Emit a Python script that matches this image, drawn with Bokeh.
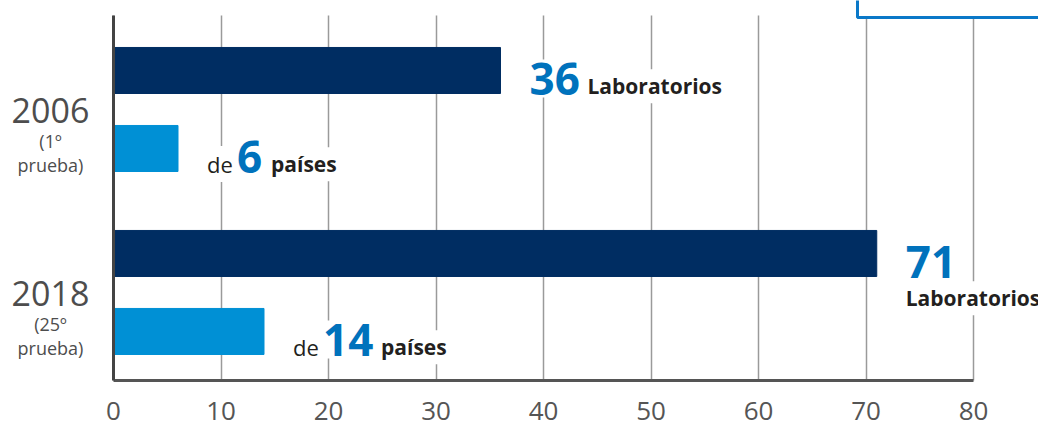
from bokeh.plotting import figure
from bokeh.models import Range1d, Label, FixedTicker, BoxAnnotation
from bokeh.embed import file_html
from bokeh.resources import INLINE

# ---- data ----
years = ["2006", "2018"]
rounds = ["(1º", "(25º"]
laboratorios = [36, 71]
paises = [6, 14]
x_ticks = [0, 10, 20, 30, 40, 50, 60, 70, 80]

# ---- style ----
NAVY = "#002d62"
LIGHT = "#0090d5"
NUMBLUE = "#0072bc"
DARK = "#231f20"
GRAY = "#4d4d4d"
FONT = "Open Sans"

W, H = 1038, 423
PX_PER_UNIT = 860 / 80.0          # horizontal scale (px per value unit)
X0_PX = 113                       # pixel position of value 0
ROW_PX = 78                       # pixel distance between rows
TOP_PX, BOT_PX = 15, 380          # top / bottom of plotting area

group_step = 2.346
bar_h = 0.59
lab_y = [i * group_step for i in range(len(years))]
pai_y = [y + 1 for y in lab_y]

y_top = -0.705
y_bot = y_top + (BOT_PX - TOP_PX) / ROW_PX
x_start = -X0_PX / PX_PER_UNIT
x_end = (W - X0_PX) / PX_PER_UNIT
y_canvas_top = y_top - TOP_PX / ROW_PX
y_canvas_bot = y_top + (H - TOP_PX) / ROW_PX

p = figure(width=W, height=H, output_backend="svg", toolbar_location=None,
           x_range=Range1d(x_start, x_end),
           y_range=Range1d(y_canvas_bot, y_canvas_top),
           min_border=0)
p.outline_line_color = None

p.hbar(y=lab_y, left=0, right=laboratorios, height=bar_h, color=NAVY)
p.hbar(y=pai_y, left=0, right=paises, height=bar_h, color=LIGHT)

# axes (fixed at value 0 / bottom of area)
p.xaxis.fixed_location = y_bot
p.xaxis.bounds = (0, 80)
p.xaxis.ticker = FixedTicker(ticks=x_ticks)
p.xaxis.axis_line_width = 3
p.xaxis.axis_line_color = "#555555"
p.xaxis.major_tick_line_color = None
p.xaxis.minor_tick_line_color = None
p.xaxis.major_label_text_font = FONT
p.xaxis.major_label_text_font_size = "26px"
p.xaxis.major_label_text_color = "#555555"
p.xaxis.major_label_standoff = 15

p.yaxis.fixed_location = 0
p.yaxis.bounds = (y_top, y_bot)
p.yaxis.ticker = FixedTicker(ticks=[])
p.yaxis.axis_line_width = 3
p.yaxis.axis_line_color = "#444444"
p.yaxis.major_tick_line_color = None
p.yaxis.minor_tick_line_color = None
p.yaxis.major_label_text_font_size = "0px"

p.ygrid.grid_line_color = None
p.xgrid.ticker = FixedTicker(ticks=x_ticks)
p.xgrid.grid_line_color = "#9a9a9a"
p.xgrid.grid_line_width = 1.5
p.xgrid.cross_bounds = (y_top, y_bot)

def lab(x, y, text, size_px, color, bold, xo=0, yo=0):
    comp = 0.34 * size_px
    l = Label(x=x, y=y, text=text, x_offset=xo, y_offset=yo + comp,
              text_font=FONT, text_font_size=f"{size_px}px", text_color=color,
              text_font_style="bold" if bold else "normal",
              text_baseline="alphabetic", text_align="left",
              background_fill_color="white", background_fill_alpha=1.0,
              padding=3)
    p.add_layout(l)

NUM = 44
DIGIT_W = 24
GAP = 26
avail_px = W - X0_PX

for i in range(len(years)):
    # laboratorios label
    v = laboratorios[i]
    yb = lab_y[i] + bar_h / 2
    num_w = 25 * len(str(v))
    lab(v, yb, str(v), NUM, NUMBLUE, True, xo=GAP)
    if v * PX_PER_UNIT + GAP + num_w + 8 + 132 < avail_px:
        lab(v, yb, "Laboratorios", 21, DARK, True, xo=GAP + num_w + 8)
    else:
        lab(v, yb, "Laboratorios", 21, DARK, True, xo=GAP, yo=-29)
    # paises label
    v = paises[i]
    yb = pai_y[i] + bar_h / 2
    num_w = DIGIT_W * len(str(v))
    lab(v, yb, "de", 22, DARK, False, xo=GAP)
    lab(v, yb, str(v), NUM, NUMBLUE, True, xo=GAP + 30)
    lab(v, yb, "países", 21, DARK, True, xo=GAP + 30 + num_w + 10)

    # category labels on the left
    gc = (lab_y[i] + pai_y[i]) / 2
    for txt, size, yo in [(years[i], "34px", -1.5), (rounds[i], "18px", -32),
                          ("prueba)", "18px", -56)]:
        p.add_layout(Label(x=0, y=gc, text=txt, x_offset=-63, y_offset=yo,
                           text_font=FONT, text_font_size=size, text_color=GRAY,
                           text_align="center", text_baseline="middle"))

# partially visible legend box at top right
p.add_layout(BoxAnnotation(left=(857 - X0_PX) / PX_PER_UNIT, right=x_end + 5,
                           top=y_canvas_top - 1, bottom=y_top + 2 / ROW_PX,
                           fill_color="white", fill_alpha=1.0,
                           line_color="#0a78c8", line_alpha=1.0, line_width=3))

open("out.html", "w").write(file_html(p, INLINE))
